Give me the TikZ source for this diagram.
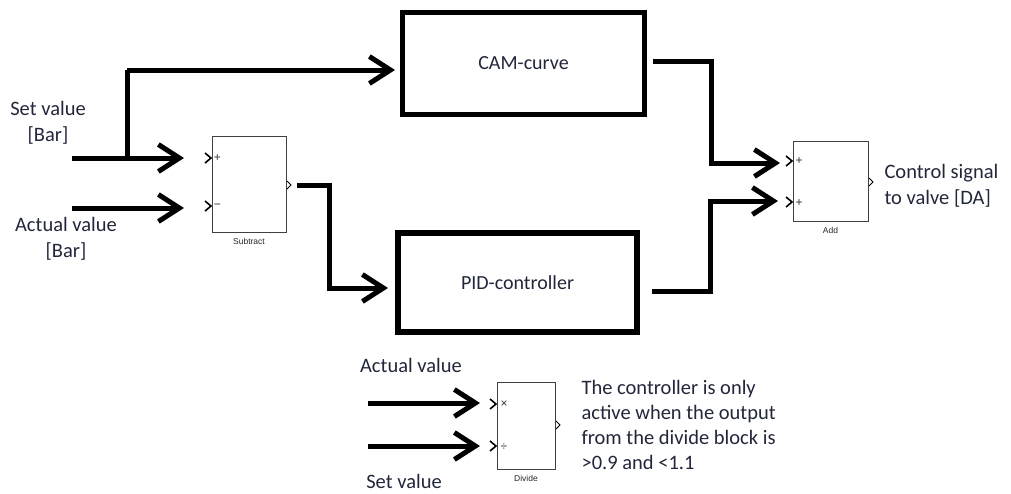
\documentclass[tikz,border=0pt]{standalone}
\usepackage{fontspec}
\setmainfont{Carlito}
\newfontfamily\blockfont{Liberation Sans}
\usetikzlibrary{arrows.meta}
\definecolor{txt}{HTML}{22263A}
\tikzset{
  bigbox/.style={draw=black, line width=5.5pt, font=\fontsize{20}{24}\selectfont, text=txt},
  sblock/.style={draw=black!75, line width=0.9pt, fill=white},
  sig/.style={line width=5pt, -{Straight Barb[length=21pt,width=27pt]}},
  port/.style={line width=1.6pt, line join=miter},
  oport/.style={line width=0.9pt},
  lbl/.style={font=\fontsize{20.5}{26}\selectfont, text=txt},
  blbl/.style={font=\blockfont\fontsize{8.5}{10}\selectfont, text=black!85},
  sgn/.style={font=\blockfont\fontsize{12}{12}\selectfont, inner sep=0pt, text=black!80}
}
\begin{document}
\begin{tikzpicture}[x=1pt,y=-1pt]
\useasboundingbox (0,0) rectangle (1011,493);
% big boxes
\node[bigbox, minimum width=242pt, minimum height=102pt] (cam) at (523.5,63.5) {CAM-curve};
\node[bigbox, minimum width=239pt, minimum height=99pt] (pid) at (517.5,282.5) {PID-controller};
% simulink blocks
\node[sblock, minimum width=74pt, minimum height=96pt] (sub) at (249,184) {};
\node[sblock, minimum width=75pt, minimum height=80pt] (add) at (830.5,181) {};
\node[sblock, minimum width=58pt, minimum height=87pt] (div) at (526,425.5) {};
\node[blbl] (subl) at (249,241) {Subtract};
\node[blbl] (addl) at (830.5,230) {Add};
\node[blbl] (divl) at (526,478) {Divide};
% ports
\draw[port] (205,153) -- (211,158) -- (205,163);
\draw[port] (205,201) -- (211,206) -- (205,211);
\node[sgn] (s1) at (217.5,158.5) {+};
\node[sgn] (s2) at (217.5,206) {\textminus};
\draw[oport] (287,181) -- (291,185) -- (287,189);
\draw[port] (786,156) -- (792,161) -- (786,166);
\draw[port] (786,197) -- (792,202) -- (786,207);
\node[sgn] (a1) at (799,161) {+};
\node[sgn] (a2) at (799,203) {+};
\draw[oport] (869,178) -- (873,182) -- (869,186);
\draw[port] (490,399) -- (496,404) -- (490,409);
\draw[port] (490,441) -- (496,446) -- (490,451);
\node[sgn] (d1) at (504,404) {×};
\node[sgn] (d2) at (504,447) {÷};
\draw[oport] (556,421) -- (560,425) -- (556,429);
% coordinates
\coordinate (setin) at (72,158);
\coordinate (setend) at (184,158);
\coordinate (br) at (127,158);
\coordinate (camin) at (395,70);
\coordinate (actin) at (72,208);
\coordinate (actend) at (184,208);
\coordinate (subout) at (297,185);
\coordinate (pidin) at (388,288);
\coordinate (camout) at (653,61);
\coordinate (addin1) at (780,163);
\coordinate (pidout) at (652,291);
\coordinate (addin2) at (778,201);
\coordinate (dain) at (368,403);
\coordinate (daend) at (480,403);
\coordinate (dsin) at (368,446);
\coordinate (dsend) at (480,446);
% signals
\draw[sig] (setin) -- (setend);
\draw[line width=5pt] (br) -- (br |- camin);
\draw[sig] (br |- camin) -- (camin);
\draw[sig] (actin) -- (actend);
\draw[sig] (subout) -- (329,185) -- (329,288) -- (pidin);
\draw[sig] (camout) -- (711,61) -- (711,163) -- (addin1);
\draw[sig] (pidout) -- (710,291) -- (710,201) -- (addin2);
\draw[sig] (dain) -- (daend);
\draw[sig] (dsin) -- (dsend);
% labels
\node[lbl, align=center] (setl) at (48,123) {Set value\\{[Bar]}};
\node[lbl, align=center] (actl) at (66,239) {Actual value\\{[Bar]}};
\node[lbl, align=left, anchor=west] (ctl) at (881,186) {Control signal\\to valve {[DA]}};
\node[lbl] (dact) at (411,365) {Actual value};
\node[lbl, inner sep=1pt] (dset) at (404,481) {Set value};
\node[lbl, align=left, anchor=west, font=\fontsize{20.5}{25}\selectfont] (note) at (578,425) {The controller is only\\active when the output\\from the divide block is\\>0.9 and <1.1};
\end{tikzpicture}
\end{document}
